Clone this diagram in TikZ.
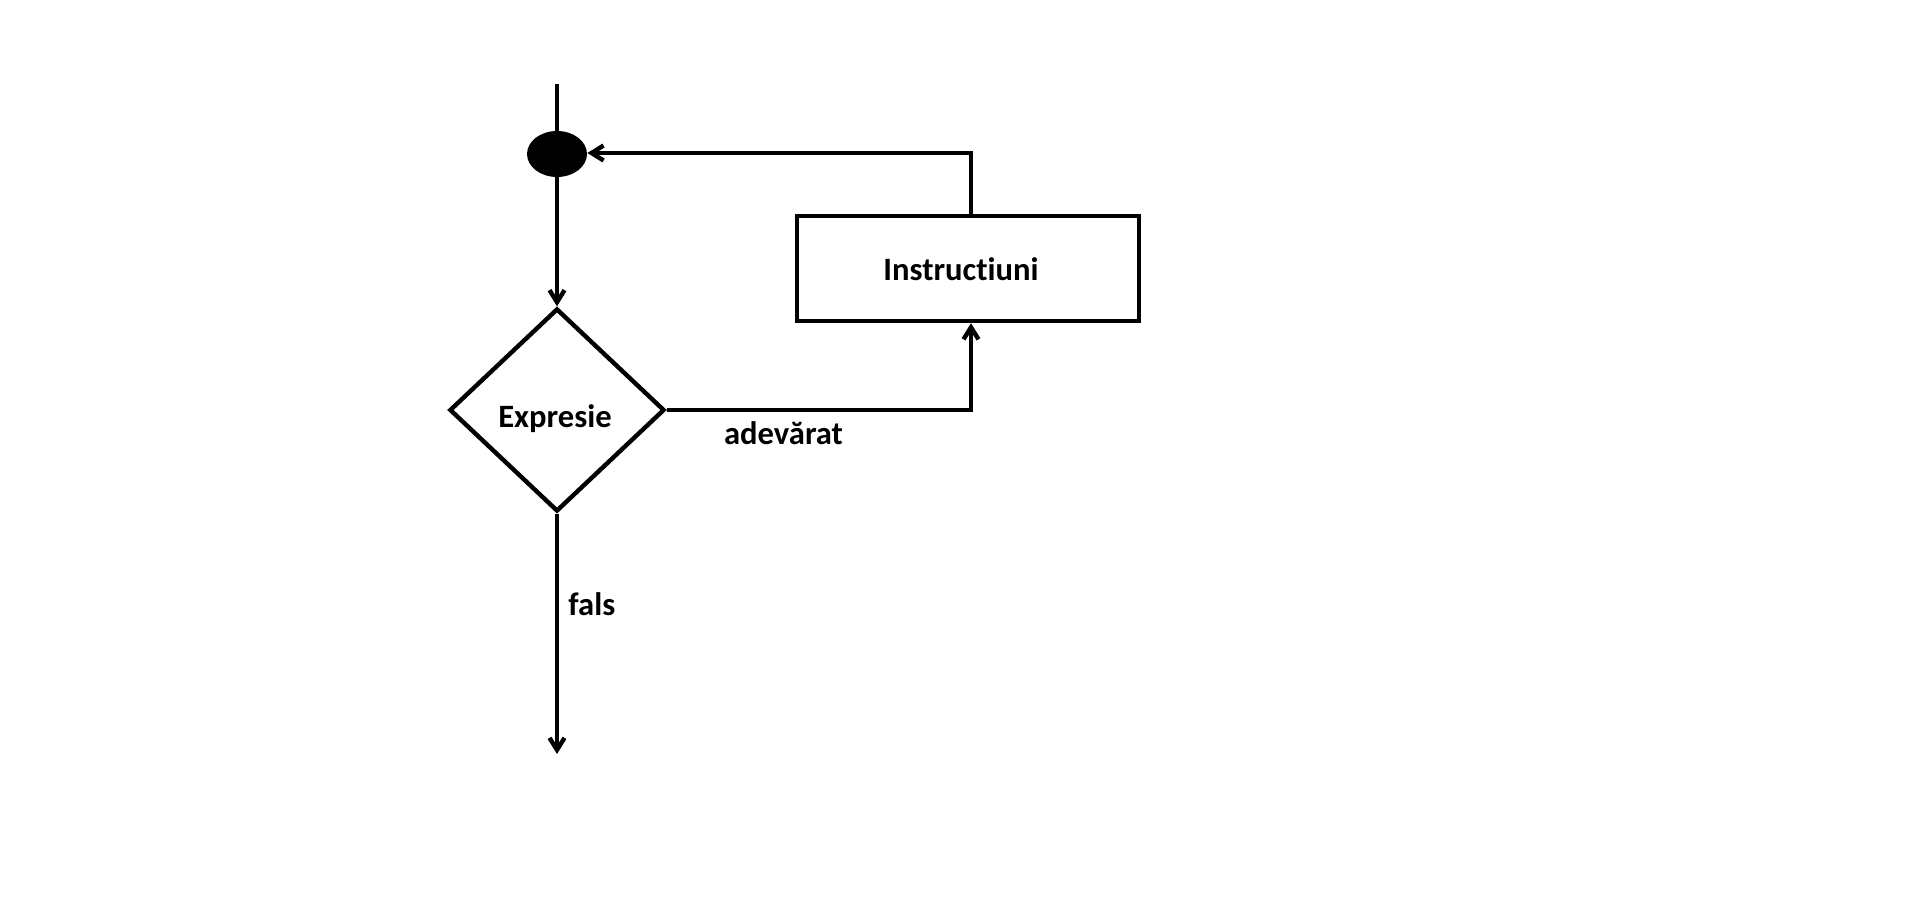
\documentclass[tikz,border=0pt]{standalone}
\usepackage{fontspec}
\setmainfont{Carlito}[Ligatures={NoCommon,NoDiscretionary,NoContextual}]
\usetikzlibrary{shapes.geometric,arrows.meta,calc}
\tikzset{
  flow/.style={line width=2.2pt, line join=miter},
  arr/.style={flow, -{Straight Barb[length=6pt,width=7.5pt]}},
  lbl/.style={font=\fontsize{16.3}{19}\selectfont\bfseries, inner sep=0pt},
  procbox/.style={draw, line width=2.2pt, fill=white, minimum width=171pt, minimum height=52.5pt, inner sep=0pt},
  decision/.style={diamond, draw, line width=2.2pt, minimum width=107.5pt, minimum height=101.5pt, inner sep=0pt, aspect=1},
  joint/.style={ellipse, fill=black, minimum width=30pt, minimum height=23pt, inner sep=0pt}
}
\begin{document}
\begin{tikzpicture}[x=0.5pt, y=-0.5pt]
  \useasboundingbox (0,0) rectangle (1914,919);
  % nodes
  \coordinate (start) at (557,84);
  \node[joint] (e) at (557,154) {};
  \node[decision] (d) at (557,410) {};
  \node[procbox] (b) at (968,268.5) {};
  \coordinate (c1) at (971,410);
  \coordinate (c2) at (971,153);
  \coordinate (endp) at (557,754);
  % texts
  \node[lbl, anchor=base] (te) at (555,427) {Expresie};
  \node[lbl, anchor=base] (tb) at (961,281) {Instructiuni};
  \node[lbl, anchor=base] (ta) at (783.5,444) {adevărat};
  \node[lbl, anchor=base west] (tf) at (568,615) {fals};
  % connectors
  \draw[flow] (start) -- (e.north);
  \draw[arr] (e.south) -- (d.north);
  \draw[arr] (d.east) -- (c1) -- (c1 |- b.south);
  \draw[arr] (c2 |- b.north) -- (c2) -- (c2 -| e.east);
  \draw[arr] (d.south) -- (endp);
\end{tikzpicture}
\end{document}
